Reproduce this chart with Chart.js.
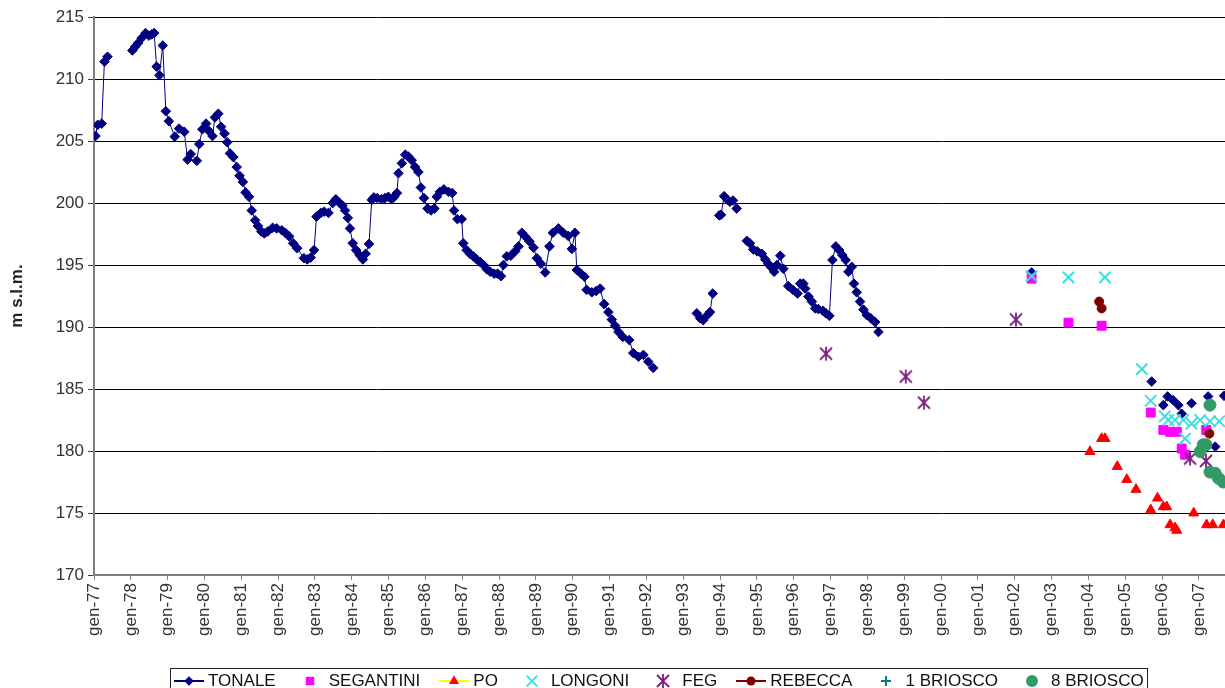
<!DOCTYPE html>
<html>
<head>
<meta charset="utf-8">
<title>Quote piezometriche</title>
<script src="https://cdn.jsdelivr.net/npm/chart.js@4.4.1/dist/chart.umd.min.js"></script>
<style>
    html, body { margin: 0; padding: 0; background: #fff; overflow: hidden; }
    #contenitore { position: relative; width: 1225px; height: 688px; }
    #legenda {
        position: absolute; left: 170px; top: 668px; height: 26px;
        border: 1px solid #222; display: flex; align-items: center;
        font: 17px Arial, "Liberation Sans", sans-serif; color: #111;
        white-space: nowrap; padding: 0 3px 0 2px; box-sizing: border-box;
    }
    .voce { display: flex; align-items: center; margin-right: 18px; }
    .voce:last-child { margin-right: 0; }
    .voce canvas { margin-right: 3px; }
</style>
</head>
<body>
<div id="contenitore">
    <canvas id="graficoQuote" width="1225" height="688"></canvas>
    <div id="legenda"></div>
</div>
<script>
// ------------ Dati (mesi da gen-77, quote in m s.l.m.) ------------ //

var etichetteAnni = ['gen-77', 'gen-78', 'gen-79', 'gen-80', 'gen-81', 'gen-82', 'gen-83', 'gen-84',
    'gen-85', 'gen-86', 'gen-87', 'gen-88', 'gen-89', 'gen-90', 'gen-91', 'gen-92', 'gen-93',
    'gen-94', 'gen-95', 'gen-96', 'gen-97', 'gen-98', 'gen-99', 'gen-00', 'gen-01', 'gen-02',
    'gen-03', 'gen-04', 'gen-05', 'gen-06', 'gen-07'];

// null = interruzione della linea
var tonaleMesi = [
    0.5, 1.2, 2.5, 3.4, 4.4, 8,
    12.5, 13.4, 14.4, 15.5, 16.8, 17.9, 18.8, 19.6, 20.4, 21.3, 22.4, 23.4, 24.4, 26.3, 27.7,
    29.4, 30.5, 31.5, 33.5, 34.3, 35.3, 36.5, 37.5, 38.6, 39.4, 40.5, 41.4, 42.5, 43.4, 44.3,
    45.4, 46.5, 47.4, 48.5, 49.4, 50.5, 51.4, 52.5, 53.4, 54.5, 55.5, 56.6, 58.2, 59.5, 61.2,
    62.3, 63.6, 64.9, 66.2, 68.4, 69.5, 70.6, 71.7, 72.5, 73.9, 75.0, 76.4, 77.8, 78.8, 80.0,
    80.9, 81.8, 82.7, 83.4, 84.3, 85.4, 86.5, 87.6, 88.5, 89.6, 90.5, 91.2, 92.3, 93.7, 94.8,
    95.9, 97.0, 97.8, 98.7, 99.2, 100.3, 101.4, 102.4, 103.5, 104.6, 105.7, 106.5, 107.5, 108.7,
    109.8, 110.9, 111.7, 112.7, 114.0, 115.5, 116.7, 117.3, 118.4, 119.8, 120.3, 121.4, 122.5,
    123.6, 124.7, 125.8, 126.9, 128.0, 129.1, 130.4, 131.5, 132.6, 133.4, 134.5, 135.8, 137.2,
    138.3, 139.4, 140.5, 141.9, 143.2, 144.3, 145.6, 147.0, 148.4, 149.5, 151.3, 152.9, 154.5,
    155.7, 156.7, 157.3, 158.7, 159.8, 160.5, 162.2, 163.6, 164.9, 166.2, 167.6, 168.7, 169.8,
    170.9, 172.3, 174.4, 175.7, 177.4, 179.0, 180.6, 182.2, 190,
    196.4, 197.5, 198.5, 199.8, 200.7, 201.6, 202.6,
    203.7, 204.3, 205.3, 206.4, 207.2, 208.2, 209.4, 211,
    212.7, 213.7, 214.8, 216.1, 217.6, 218.7, 219.7, 220.5, 221.6, 222.5, 223.6, 224.6, 226.2,
    227.7, 229.2, 230.1, 231.1, 231.7, 232.8, 233.9, 235.0, 236.0, 237.5, 238.5, 239.6, 240.6,
    241.7, 242.8, 243.8, 244.9, 245.8, 246.9, 247.6, 248.5, 249.6, 250.7, 251.8, 253.1, 254.5,
    255.6, 280,
    305.5, 325,
    344.6, 346.5,
    348.4, 349.8, 351.6, 353.3, 354.4, 356,
    357.6, 360,
    363.0, 364.2,
    365.3, 366.7,
    368.2
];
var tonaleQuote = [
    205.4, 206.3, 206.4, 211.4, 211.8, null,
    212.3, 212.6, 212.9, 213.3, 213.7, 213.5, 213.6, 213.7, 211.0, 210.3, 212.7, 207.4, 206.6, 205.35, 206.0,
    205.75, 203.5, 203.95, 203.4, 204.75, 205.95, 206.4, 205.8, 205.4, 206.9, 207.2, 206.15, 205.6, 204.9, 204.0,
    203.7, 202.9, 202.2, 201.7, 200.85, 200.5, 199.4, 198.6, 198.15, 197.7, 197.55, 197.7, 198.0, 197.95, 197.8,
    197.6, 197.3, 196.75, 196.35, 195.55, 195.45, 195.6, 196.2, 198.9, 199.2, 199.3, 199.2, 200.0, 200.3, 200.0,
    199.8, 199.4, 198.8, 197.95, 196.75, 196.2, 195.8, 195.45, 195.9, 196.7, 200.25, 200.45, 200.4, 200.3, 200.4,
    200.5, 200.3, 200.5, 200.8, 202.4, 203.2, 203.9, 203.75, 203.45, 202.9, 202.5, 201.25, 200.4, 199.55,
    199.4, 199.55, 200.5, 200.9, 201.1, 200.9, 200.8, 199.4, 198.7, 198.7, 196.75, 196.2, 195.9,
    195.7, 195.45, 195.25, 195.0, 194.65, 194.45, 194.3, 194.3, 194.1, 195.0, 195.7, 195.75, 196.1,
    196.5, 197.6, 197.3, 196.9, 196.4, 195.55, 195.1, 194.4, 196.5, 197.6, 197.95, 197.6, 197.35,
    196.3, 197.6, 194.6, 194.3, 194.05, 193.0, 192.8, 192.9, 193.1, 191.85, 191.2, 190.6, 190.1,
    189.6, 189.2, 188.95, 187.9, 187.6, 187.75, 187.2, 186.7, null,
    191.1, 190.7, 190.55, 190.95, 191.2, 192.7, null,
    199.0, 199.05, 200.55, 200.25, 200.1, 200.2, 199.55, null,
    196.95, 196.75, 196.25, 196.1, 195.9, 195.45, 195.1, 194.85, 194.45, 195.0, 195.75, 194.7, 193.3,
    193.0, 192.7, 193.5, 193.5, 193.1, 192.45, 192.05, 191.5, 191.45, 191.3, 191.1, 190.9, 195.4,
    196.5, 196.2, 195.8, 195.4, 194.45, 194.85, 193.5, 192.8, 192.05, 191.4, 190.95, 190.7, 190.4,
    189.6, null,
    194.4, null,
    185.6, null,
    183.7, 184.4, 184.1, 183.7, 183.0, null,
    183.85, null,
    184.4, null,
    180.35, null,
    184.45
];

var segantiniMesi = [305.5, 317.5, 328.3, 344.3, 348.4, 350.6, 352.8, 354.4, 355.5, 362.4];
var segantiniQuote = [193.9, 190.35, 190.1, 183.1, 181.7, 181.55, 181.55, 180.2, 179.7, 181.7];

var poMesi = [324.5, 328.3, 329.4, 333.4, 336.5, 339.5, 344.3, 346.5, 348.4, 349.5, 350.6, 352.2, 352.8, 358.3, 362.5, 364.5, 368.0];
var poQuote = [179.95, 181.0, 181.0, 178.75, 177.7, 176.9, 175.25, 176.2, 175.5, 175.5, 174.05, 173.8, 173.6, 175.0, 174.05, 174.05, 174.05];

var longoniMesi = [305.5, 317.5, 329.4, 341.4, 344.3, 348.9, 350.0, 352.2, 354.9, 355.5, 357.6, 360.4, 363.6, 366.6];
var longoniQuote = [194.1, 194.0, 194.0, 186.6, 184.05, 182.8, 182.5, 182.5, 182.5, 181.0, 182.2, 182.5, 182.4, 182.4];

var fegMesi = [238.5, 264.5, 270.4, 300.4, 357.1, 362.3];
var fegQuote = [187.85, 186.0, 183.9, 190.6, 179.4, 179.2];

var rebeccaMesi = [327.5, 328.3, 363.4];
var rebeccaQuote = [192.05, 191.5, 181.4];

var briosco1Mesi = [];
var briosco1Quote = [];

var briosco8Mesi = [360.4, 361.4, 362.3, 363.6, 363.6, 365.3, 366.4, 367.9];
var briosco8Quote = [179.95, 180.5, 180.5, 183.7, 178.3, 178.2, 177.8, 177.5];

// ------------ Utilità ------------ //

var FONT = 'Arial, "Liberation Sans", sans-serif';

function punti(mesi, quote) {
    return mesi.map(function (m, i) { return { x: m, y: quote[i] }; });
}

// asterisco a 6 bracci (FEG)
function creaAsterisco(colore) {
    var c = document.createElement('canvas');
    c.width = 16; c.height = 16;
    var g = c.getContext('2d');
    g.strokeStyle = colore;
    g.lineWidth = 1.8;
    g.beginPath();
    g.moveTo(2, 2); g.lineTo(14, 14);
    g.moveTo(14, 2); g.lineTo(2, 14);
    g.moveTo(8, 1); g.lineTo(8, 15);
    g.stroke();
    return c;
}

var asteriscoFeg = creaAsterisco('#7a1f7a');

// ------------ Grafico ------------ //

var serie = [
    { label: 'TONALE', data: punti(tonaleMesi, tonaleQuote), showLine: true, borderColor: '#000080', borderWidth: 1,
      pointStyle: 'rectRot', pointRadius: 4.8, pointBackgroundColor: '#000080', pointBorderColor: '#000080', pointBorderWidth: 1, linea: true },
    { label: 'SEGANTINI', data: punti(segantiniMesi, segantiniQuote), borderColor: '#ff00ff',
      pointStyle: 'rect', pointRadius: 6.3, pointBackgroundColor: '#ff00ff', pointBorderColor: '#ff00ff', pointBorderWidth: 1 },
    { label: 'PO', data: punti(poMesi, poQuote), borderColor: '#ffff00',
      pointStyle: 'triangle', pointRadius: 5.8, pointBackgroundColor: '#ff0000', pointBorderColor: '#ff0000', pointBorderWidth: 1, linea: true },
    { label: 'LONGONI', data: punti(longoniMesi, longoniQuote), borderColor: '#3fdede',
      pointStyle: 'crossRot', pointRadius: 8, pointBorderColor: '#3fdede', pointBorderWidth: 2 },
    { label: 'FEG', data: punti(fegMesi, fegQuote), borderColor: '#7a1f7a',
      pointStyle: asteriscoFeg, pointRadius: 7 },
    { label: 'REBECCA', data: punti(rebeccaMesi, rebeccaQuote), borderColor: '#800000',
      pointStyle: 'circle', pointRadius: 4.5, pointBackgroundColor: '#800000', pointBorderColor: '#800000', pointBorderWidth: 1, linea: true },
    { label: '1 BRIOSCO', data: punti(briosco1Mesi, briosco1Quote), borderColor: '#008080',
      pointStyle: 'cross', pointRadius: 5, pointBorderColor: '#008080', pointBorderWidth: 2 },
    { label: '8 BRIOSCO', data: punti(briosco8Mesi, briosco8Quote), borderColor: '#339966',
      pointStyle: 'circle', pointRadius: 6, pointBackgroundColor: '#339966', pointBorderColor: '#339966', pointBorderWidth: 1 }
];

// come in Excel: l'ultima serie sta sopra
serie.forEach(function (s, i) { s.order = serie.length - i; s.spanGaps = false; });

var ctx = document.getElementById('graficoQuote').getContext('2d');
var grafico = new Chart(ctx, {
    type: 'scatter',
    data: { datasets: serie },
    options: {
        responsive: false,
        animation: false,
        layout: { autoPadding: false, padding: { top: 17, right: 0, bottom: 28, left: 0 } },
        plugins: { legend: { display: false }, tooltip: { enabled: false } },
        scales: {
            x: {
                type: 'linear', min: 0, max: 368.5,
                afterBuildTicks: function (s) {
                    s.ticks = etichetteAnni.map(function (t, i) { return { value: i * 12 }; });
                },
                afterFit: function (s) {
                    s.height = 85;
                    s.paddingLeft = 0;
                    s.paddingRight = 0;
                },
                ticks: {
                    autoSkip: false, minRotation: 90, maxRotation: 90, padding: 3,
                    color: '#333', font: { family: FONT, size: 17 },
                    callback: function (v, i) { return etichetteAnni[i]; }
                },
                grid: { drawOnChartArea: false, drawTicks: true, tickLength: 5, tickColor: '#808080' },
                border: { color: '#808080', width: 2 }
            },
            y: {
                min: 170, max: 215,
                afterFit: function (s) { s.width = 94; },
                ticks: { stepSize: 5, padding: 4, color: '#333', font: { family: FONT, size: 17 } },
                grid: {
                    color: function (c) { return (c.tick && c.tick.value === 170) ? 'rgba(0,0,0,0)' : '#000'; },
                    tickColor: '#404040', tickLength: 6
                },
                border: { color: '#808080', width: 2 },
                title: { display: true, text: 'm s.l.m.', color: '#222', padding: { top: 7, bottom: 0 },
                         font: { family: FONT, size: 17, weight: 'bold' } }
            }
        }
    }
});

// ------------ Legenda (box sotto il grafico) ------------ //

function disegnaSimbolo(g, s, x, y) {
    var r = s.pointRadius;
    g.fillStyle = s.pointBackgroundColor || s.borderColor;
    g.strokeStyle = s.pointBorderColor || s.borderColor;
    g.lineWidth = s.pointBorderWidth || 1;
    if (typeof s.pointStyle === 'object') {
        g.drawImage(s.pointStyle, x - s.pointStyle.width / 2, y - s.pointStyle.height / 2);
        return;
    }
    g.beginPath();
    if (s.pointStyle === 'rectRot') {
        g.moveTo(x - r, y); g.lineTo(x, y - r); g.lineTo(x + r, y); g.lineTo(x, y + r); g.closePath(); g.fill();
    } else if (s.pointStyle === 'rect') {
        var h = r * 0.7; g.rect(x - h, y - h, 2 * h, 2 * h); g.fill();
    } else if (s.pointStyle === 'triangle') {
        g.moveTo(x, y - r); g.lineTo(x + r * 0.87, y + r * 0.5); g.lineTo(x - r * 0.87, y + r * 0.5); g.closePath(); g.fill();
    } else if (s.pointStyle === 'circle') {
        g.arc(x, y, r, 0, Math.PI * 2); g.fill();
    } else if (s.pointStyle === 'crossRot') {
        var d = r * 0.6; g.moveTo(x - d, y - d); g.lineTo(x + d, y + d); g.moveTo(x + d, y - d); g.lineTo(x - d, y + d); g.stroke();
    } else if (s.pointStyle === 'cross') {
        var e = r; g.moveTo(x - e, y); g.lineTo(x + e, y); g.moveTo(x, y - e); g.lineTo(x, y + e); g.stroke();
    }
}

var legenda = document.getElementById('legenda');
grafico.data.datasets.forEach(function (s) {
    var voce = document.createElement('span');
    voce.className = 'voce';
    var icona = document.createElement('canvas');
    icona.width = 32; icona.height = 18;
    var g = icona.getContext('2d');
    if (s.linea) {
        g.strokeStyle = s.borderColor; g.lineWidth = 2;
        g.beginPath(); g.moveTo(1, 9); g.lineTo(31, 9); g.stroke();
    }
    var raggio = s.pointStyle === 'crossRot' ? 9 : Math.min(s.pointRadius, 6);
    disegnaSimbolo(g, Object.assign({}, s, { pointRadius: raggio }), 16, 9);
    var testo = document.createElement('span');
    testo.textContent = s.label;
    voce.appendChild(icona);
    voce.appendChild(testo);
    legenda.appendChild(voce);
});
</script>
</body>
</html>
